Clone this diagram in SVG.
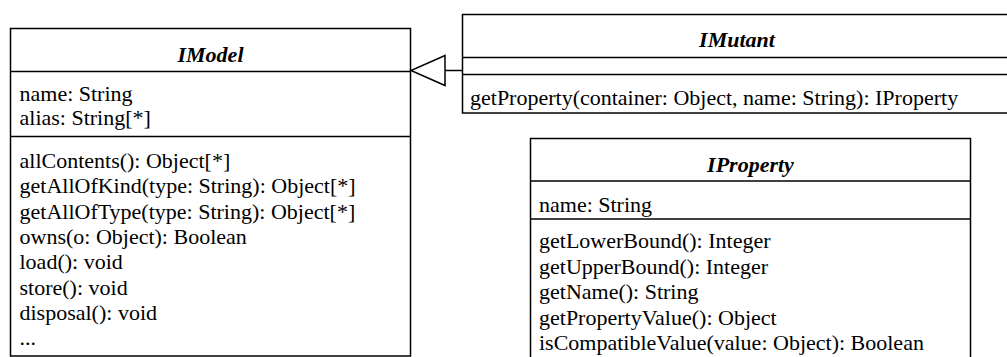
<svg xmlns="http://www.w3.org/2000/svg" width="1007" height="357" viewBox="0 0 1007 357">
<style>
.box{fill:#fff;stroke:#000;stroke-width:1.5}
.sep{stroke:#000;stroke-width:1.5}
.t{font-family:"Liberation Serif","Times New Roman",serif;font-size:22px;fill:#000}
.h{font-family:"Liberation Serif","Times New Roman",serif;font-size:22px;font-weight:bold;font-style:italic;fill:#000;text-anchor:middle}
.edge{stroke:#000;stroke-width:1.5;fill:none}
.tri{stroke:#000;stroke-width:1.5;fill:#fff}
</style>
<rect width="1007" height="357" fill="#fff"/>
<g id="IModel">
<rect class="box" x="10.5" y="28.5" width="400" height="327.5"/>
<line class="sep" x1="10.5" y1="71.5" x2="410.5" y2="71.5"/>
<line class="sep" x1="10.5" y1="136.5" x2="410.5" y2="136.5"/>
<text class="h" x="210.5" y="62">IModel</text>
<text class="t" x="19.5" y="100.5">name: String</text>
<text class="t" x="19.5" y="124.5">alias: String[*]</text>
<text class="t" x="19.5" y="168">allContents(): Object[*]</text>
<text class="t" x="19.5" y="193.3">getAllOfKind(type: String): Object[*]</text>
<text class="t" x="19.5" y="218.6">getAllOfType(type: String): Object[*]</text>
<text class="t" x="19.5" y="243.9">owns(o: Object): Boolean</text>
<text class="t" x="19.5" y="269.2">load(): void</text>
<text class="t" x="19.5" y="294.5">store(): void</text>
<text class="t" x="19.5" y="319.8">disposal(): void</text>
<text class="t" x="19.5" y="345">...</text>
</g>
<g id="IMutant">
<rect class="box" x="462.5" y="14.5" width="550" height="98.5"/>
<line class="sep" x1="462.5" y1="57.5" x2="1012" y2="57.5"/>
<line class="sep" x1="462.5" y1="74.5" x2="1012" y2="74.5"/>
<text class="h" x="737" y="47">IMutant</text>
<text class="t" x="470" y="105">getProperty(container: Object, name: String): IProperty</text>
</g>
<g id="IProperty">
<rect class="box" x="530.5" y="138.5" width="440" height="230"/>
<line class="sep" x1="530.5" y1="181" x2="970.5" y2="181"/>
<line class="sep" x1="530.5" y1="219" x2="970.5" y2="219"/>
<text class="h" x="750.5" y="172">IProperty</text>
<text class="t" x="539" y="211.5">name: String</text>
<text class="t" x="539" y="248">getLowerBound(): Integer</text>
<text class="t" x="539" y="273.5">getUpperBound(): Integer</text>
<text class="t" x="539" y="299">getName(): String</text>
<text class="t" x="539" y="324.5">getPropertyValue(): Object</text>
<text class="t" x="539" y="350">isCompatibleValue(value: Object): Boolean</text>
</g>
<g id="connectors">
<line class="edge" x1="462" y1="70.5" x2="445" y2="70.5"/>
<polygon class="tri" points="445,55.5 411,70.5 445,85.5"/>
</g>
</svg>
